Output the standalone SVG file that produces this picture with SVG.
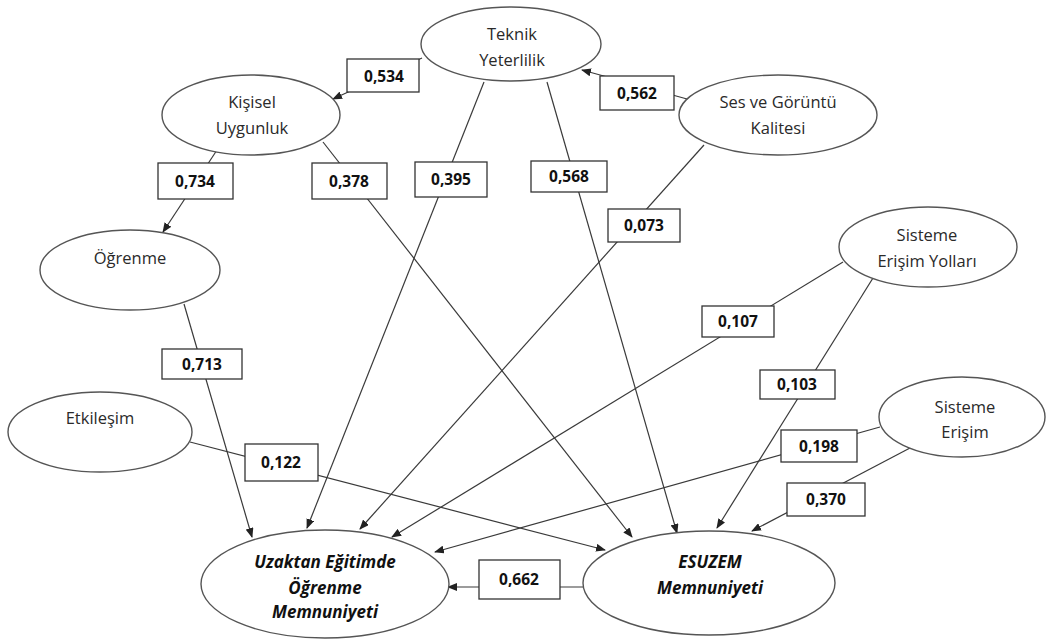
<svg xmlns="http://www.w3.org/2000/svg" width="1047" height="639" viewBox="0 0 1047 639">
  <style>
    .bg { fill: #ffffff; }
    .edge { stroke: #3a3a3a; stroke-width: 1.2; fill: none; }
    .node ellipse { fill: #ffffff; stroke: #555555; stroke-width: 1.4; }
    .node text { font-family: "Open Sans", "Liberation Sans", sans-serif; font-size: 16.5px; fill: #2a2a2a; text-anchor: middle; }
    .node.outcome text { font-weight: bold; font-style: italic; font-size: 17px; fill: #111111; }
    .lbl rect { fill: #ffffff; stroke: #333333; stroke-width: 1.3; }
    .lbl text { font-family: "Open Sans", "Liberation Sans", sans-serif; font-weight: bold; font-size: 15.5px; fill: #111111; text-anchor: middle; dominant-baseline: central; }
  </style>
  <defs>
    <marker id="arrow" markerUnits="userSpaceOnUse" markerWidth="10" markerHeight="8" refX="9" refY="4" orient="auto">
      <path d="M0,0 L10,4 L0,8 Z" fill="#222222"/>
    </marker>
  </defs>
  <rect class="bg" x="0" y="0" width="1047" height="639"/>

  <!-- path coefficients: lines first, then the labelled boxes over them -->
  <g id="connectors">
    <line class="edge" x1="422" y1="58" x2="333" y2="99" marker-end="url(#arrow)"/>
    <line class="edge" x1="687" y1="99" x2="582" y2="70" marker-end="url(#arrow)"/>
    <line class="edge" x1="217" y1="150" x2="163" y2="232" marker-end="url(#arrow)"/>
    <line class="edge" x1="323" y1="142" x2="632" y2="537" marker-end="url(#arrow)"/>
    <line class="edge" x1="484" y1="82" x2="307" y2="528" marker-end="url(#arrow)"/>
    <line class="edge" x1="547" y1="82" x2="677" y2="533" marker-end="url(#arrow)"/>
    <line class="edge" x1="704" y1="145" x2="360" y2="529" marker-end="url(#arrow)"/>
    <line class="edge" x1="184" y1="304" x2="252" y2="537" marker-end="url(#arrow)"/>
    <line class="edge" x1="843" y1="262" x2="392" y2="537" marker-end="url(#arrow)"/>
    <line class="edge" x1="873" y1="278" x2="717" y2="528" marker-end="url(#arrow)"/>
    <line class="edge" x1="880" y1="427" x2="435" y2="552" marker-end="url(#arrow)"/>
    <line class="edge" x1="910" y1="448" x2="752" y2="531" marker-end="url(#arrow)"/>
    <line class="edge" x1="190" y1="442" x2="605" y2="550" marker-end="url(#arrow)"/>
    <line class="edge" x1="583" y1="587" x2="448" y2="587" marker-end="url(#arrow)"/>

    <g class="lbl"><rect x="347" y="59" width="72" height="33"/><text x="384" y="76">0,534</text></g>
    <g class="lbl"><rect x="600" y="76" width="74" height="34"/><text x="637" y="93">0,562</text></g>
    <g class="lbl"><rect x="158" y="163" width="75" height="36"/><text x="195" y="181">0,734</text></g>
    <g class="lbl"><rect x="312" y="163" width="75" height="36"/><text x="349" y="181">0,378</text></g>
    <g class="lbl"><rect x="415" y="162" width="72" height="35"/><text x="451" y="179">0,395</text></g>
    <g class="lbl"><rect x="531" y="161" width="76" height="31"/><text x="569" y="176">0,568</text></g>
    <g class="lbl"><rect x="608" y="209" width="72" height="33"/><text x="644" y="225">0,073</text></g>
    <g class="lbl"><rect x="162" y="349" width="80" height="30"/><text x="202" y="364">0,713</text></g>
    <g class="lbl"><rect x="702" y="306" width="72" height="31"/><text x="738" y="321">0,107</text></g>
    <g class="lbl"><rect x="760" y="370" width="75" height="29"/><text x="797" y="384">0,103</text></g>
    <g class="lbl"><rect x="781" y="430" width="76" height="32"/><text x="819" y="446">0,198</text></g>
    <g class="lbl"><rect x="787" y="483" width="78" height="33"/><text x="826" y="499">0,370</text></g>
    <g class="lbl"><rect x="245" y="444" width="73" height="37"/><text x="281" y="462">0,122</text></g>
    <g class="lbl"><rect x="479" y="560" width="81" height="39"/><text x="519" y="579">0,662</text></g>
  </g>

  <g id="teknik-yeterlilik" class="node">
    <ellipse cx="511" cy="44" rx="90" ry="37"/>
    <text x="512" y="40">Teknik</text>
    <text x="512" y="66">Yeterlilik</text>
  </g>
  <g id="kisisel-uygunluk" class="node">
    <ellipse cx="251" cy="115" rx="89" ry="40"/>
    <text x="252" y="108">Kişisel</text>
    <text x="252" y="134">Uygunluk</text>
  </g>
  <g id="ses-goruntu" class="node">
    <ellipse cx="778" cy="115" rx="99" ry="40"/>
    <text x="778" y="108">Ses ve Görüntü</text>
    <text x="778" y="134">Kalitesi</text>
  </g>
  <g id="ogrenme" class="node">
    <ellipse cx="130" cy="270" rx="90" ry="40"/>
    <text x="130" y="264">Öğrenme</text>
  </g>
  <g id="sisteme-erisim-yollari" class="node">
    <ellipse cx="928" cy="247" rx="89" ry="40"/>
    <text x="927" y="241">Sisteme</text>
    <text x="927" y="267">Erişim Yolları</text>
  </g>
  <g id="etkilesim" class="node">
    <ellipse cx="100" cy="432" rx="92" ry="40"/>
    <text x="100" y="424">Etkileşim</text>
  </g>
  <g id="sisteme-erisim" class="node">
    <ellipse cx="962" cy="417" rx="83" ry="40"/>
    <text x="965" y="413">Sisteme</text>
    <text x="965" y="438">Erişim</text>
  </g>
  <g id="uzaktan-egitim-memnuniyeti" class="node outcome">
    <ellipse cx="325" cy="584" rx="124" ry="54"/>
    <text x="325" y="568">Uzaktan Eğitimde</text>
    <text x="325" y="594">Öğrenme</text>
    <text x="325" y="618">Memnuniyeti</text>
  </g>
  <g id="esuzem-memnuniyeti" class="node outcome">
    <ellipse cx="709" cy="583" rx="126" ry="52"/>
    <text x="710" y="568">ESUZEM</text>
    <text x="710" y="594">Memnuniyeti</text>
  </g>
</svg>
